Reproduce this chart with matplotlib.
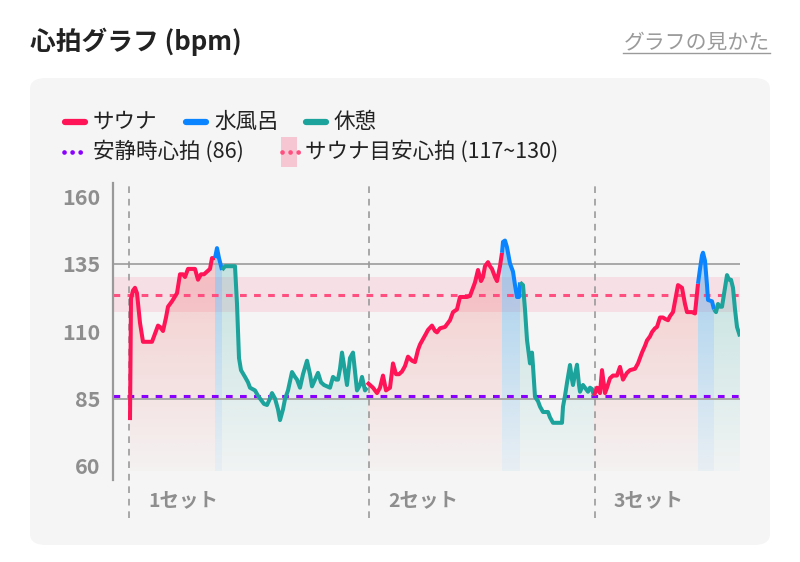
import numpy as np
import matplotlib
matplotlib.use("Agg")
import matplotlib.pyplot as plt
from matplotlib.patches import FancyBboxPatch, Polygon, Rectangle
from matplotlib.lines import Line2D
from matplotlib.colors import to_rgb

plt.rcParams['font.family'] = ['Noto Sans CJK JP', 'DejaVu Sans']

# heart-rate trace, split by phase (t = elapsed units, v = bpm)
sauna1_t = [1, 2, 4, 6, 8, 11, 14, 18, 23, 26, 29, 31, 34, 37, 39, 43, 48, 51, 54, 56, 59, 66, 69, 72, 75, 78, 81, 83, 86]
sauna1_v = [77, 122, 125, 126, 124, 113, 106, 106, 106, 109, 112, 111.5, 110, 115, 119, 121, 124, 131, 131, 130, 133, 133, 129, 131, 131, 132, 133, 137, 137]
cold1_t = [86, 88, 90, 93]
cold1_v = [137, 140.7, 137, 132.6]
rest1_t = [93, 96, 101, 106, 108, 110, 112, 116, 119, 121, 126, 129, 131, 135, 138, 141, 143, 146, 149, 151, 154, 156, 159, 163,
           166, 168, 171, 174, 178, 181, 183, 186, 189, 192, 195, 198, 201, 204, 207, 209, 211, 213, 216, 218, 221, 224, 226, 228, 231, 233, 236, 238]
rest1_v = [132.6, 134, 134, 134, 120, 100, 95.5, 93, 91, 89, 88, 86, 85, 83, 82.6, 85, 87, 85, 81, 77, 81, 84.8, 88, 94.8,
           93, 92, 89, 94, 99, 94, 89.5, 92, 94.5, 91, 90, 89.5, 89, 93, 92, 92, 96, 102, 95, 90, 100, 102, 95, 88, 90, 93, 88, 89]
sauna2_t = [238, 241, 244, 248, 251, 254, 257, 261, 264, 267, 270, 273, 276, 279, 283, 286, 289, 291, 294, 297, 299, 303, 306, 308,
            311, 316, 319, 321, 324, 328, 331, 334, 338, 341, 344, 346, 349, 352, 354, 356, 359, 361, 363, 366, 368, 371, 373]
sauna2_v = [91, 90, 89, 87, 89, 93.5, 88, 89, 98, 94, 94, 95, 97, 100.5, 99, 98.5, 103, 105, 107, 109, 110.4, 112, 110, 109.5,
            111, 111.5, 113, 114, 117, 118, 122.6, 122.6, 122.6, 123, 126, 128, 132.6, 128.5, 130, 134, 135.5, 134, 133, 130, 128.5, 134, 139]
cold2_t = [373, 374, 376, 378, 381, 383, 384, 386, 388, 390, 391]
cold2_v = [139, 143, 143.5, 141, 135, 133, 132, 127, 122.6, 122.6, 128]
rest2_t = [391, 394, 396, 398, 401, 403, 404, 406, 409, 411, 414, 419, 421, 424, 429, 433, 434, 436, 438, 441, 443, 444, 446, 448,
           450, 451, 454, 456, 459, 461, 463, 465]
rest2_v = [128, 127, 118, 106.7, 98, 102, 97, 85.6, 84, 82, 80, 80, 78, 76, 76, 76, 82, 86, 90.8, 97.4, 92, 90, 94, 97.5,
           90, 87.5, 90, 89, 87.5, 89, 88.5, 86]
sauna3_t = [465, 468, 471, 473, 476, 478, 481, 484, 488, 491, 494, 498, 501, 506, 509, 513, 516, 518, 521, 523, 526, 528, 531, 534,
            536, 539, 541, 544, 547, 549, 553, 556, 558, 561, 563, 566, 569]
sauna3_v = [86, 89, 87, 95.5, 87, 89, 92.5, 93.5, 93.5, 96.7, 92, 94.5, 95.5, 96, 98, 102, 104.5, 106.5, 108, 109.6, 111, 111.5, 115, 115,
            114.5, 114, 115.5, 117, 123, 127, 126, 120, 117, 117, 117, 116.5, 127.5]
cold3_t = [569, 571, 573, 574, 576, 578, 579, 583, 585]
cold3_v = [127.5, 133, 138, 139, 136, 127, 121.5, 121, 118]
rest3_t = [585, 587, 589, 591, 593, 596, 598, 600, 602, 604, 606, 608, 611]
rest3_v = [118, 117, 120, 119, 119, 126, 130.7, 129, 129, 126, 118, 111.5, 108]

set_starts = [0, 240, 466]
set_labels = ['1セット', '2セット', '3セット']
yticks = [60, 85, 110, 135, 160]
resting_hr = 86
target_lo, target_hi = 117, 130

C_SAUNA = '#ff1457'
C_COLD = '#0a84ff'
C_REST = '#1ba39c'
C_REST_HR = '#8a00ff'
C_TARGET = '#ff4f80'
GRAY = '#8e8e8e'
F_SAUNA = '#f03c3c'
F_COLD = '#1f8fe0'

fig = plt.figure(figsize=(8, 5.62), dpi=100)
fig.patch.set_facecolor('white')


def fx(px):
    return px / 800


def fy(py):
    return 1 - py / 562


# card background
card = FancyBboxPatch((fx(30), fy(545)), 740 / 800, 467 / 562,
                      boxstyle="round,pad=0,rounding_size=0.02", transform=fig.transFigure,
                      facecolor='#f5f5f5', edgecolor='none', zorder=-2)
fig.patches.append(card)

fig.text(fx(30), fy(42), '心拍グラフ (bpm)', fontsize=18.5, fontweight='bold',
         color='#222222', va='center', ha='left')
fig.text(fx(770), fy(42), 'グラフの見かた', fontsize=15, color='#9a9a9a', va='center', ha='right')
fig.add_artist(Line2D([fx(623), fx(770)], [fy(53)] * 2, color='#9a9a9a', lw=1, transform=fig.transFigure))

# legend
row1 = [(62, C_SAUNA, 'サウナ'), (183, C_COLD, '水風呂'), (303, C_REST, '休憩')]
for x0, c, lab in row1:
    fig.add_artist(Line2D([fx(x0 + 3), fx(x0 + 23)], [fy(122)] * 2, color=c, lw=4.5,
                          solid_capstyle='round', transform=fig.transFigure))
    fig.text(fx(x0 + 31), fy(122), lab, fontsize=15.5, color='#222222', va='center', ha='left')

fig.patches.append(Rectangle((fx(281), fy(167)), 16 / 800, 30 / 562, transform=fig.transFigure,
                             facecolor='#f7c6d3', edgecolor='none', zorder=1))
for x0, tx, c, lab in [(62, 93, C_REST_HR, '安静時心拍 (86)'), (280, 305, C_TARGET, 'サウナ目安心拍 (117~130)')]:
    fig.add_artist(Line2D([fx(x0 + 2), fx(x0 + 18.5)], [fy(152)] * 2, color=c, lw=3.4,
                          linestyle=(0, (0.01, 1.7)), dash_capstyle='round', transform=fig.transFigure, zorder=2))
    fig.text(fx(tx), fy(152), lab, fontsize=15.5, color='#222222', va='center', ha='left')

ax = fig.add_axes([113 / 800, fy(479.5), 627 / 800, 297 / 562])
ax.set_facecolor('none')
YMIN, YMAX = 55, 165
FILL_BOTTOM = 58


def grad_fill(t, v, color, a_top, a_bot):
    t = np.asarray(t, float)
    v = np.asarray(v, float)
    verts = [(t[0], FILL_BOTTOM)] + list(zip(t, v)) + [(t[-1], FILL_BOTTOM)]
    poly = Polygon(verts, closed=True, facecolor='none', edgecolor='none', transform=ax.transData)
    ax.add_patch(poly)
    img = np.zeros((200, 1, 4))
    img[..., :3] = to_rgb(color)
    img[..., 3] = np.linspace(a_top, a_bot, 200)[:, None]
    im = ax.imshow(img, extent=[t[0], t[-1], FILL_BOTTOM, 145], origin='upper', aspect='auto',
                   interpolation='bilinear', zorder=1)
    im.set_clip_path(poly)


# (t, v, line colour, fill colour, top alpha, bottom alpha)
segments = [
    (sauna1_t, sauna1_v, C_SAUNA, F_SAUNA, 0.25, 0.02),
    (cold1_t, cold1_v, C_COLD, F_COLD, 0.4, 0.06),
    (rest1_t, rest1_v, C_REST, C_REST, 0.26, 0.02),
    (sauna2_t, sauna2_v, C_SAUNA, F_SAUNA, 0.25, 0.02),
    (cold2_t, cold2_v, C_COLD, F_COLD, 0.4, 0.06),
    (rest2_t, rest2_v, C_REST, C_REST, 0.26, 0.02),
    (sauna3_t, sauna3_v, C_SAUNA, F_SAUNA, 0.25, 0.02),
    (cold3_t, cold3_v, C_COLD, F_COLD, 0.4, 0.06),
    (rest3_t, rest3_v, C_REST, C_REST, 0.26, 0.02),
]
for t, v, c, fc, a1, a2 in segments:
    grad_fill(t, v, fc, a1, a2)

# target band, reference lines
ax.axhspan(target_lo, target_hi, color='#ff8fae', alpha=0.2, lw=0, zorder=0.5)
ax.axhline((target_lo + target_hi) / 2, color=C_TARGET, lw=2.2, linestyle=(0, (2.2, 2.4)), zorder=2)
for g in [85, 135]:
    ax.axhline(g, color='#a8a8a8', lw=1.4, zorder=1.5)
ax.axhline(resting_hr, color=C_REST_HR, lw=2.2, linestyle=(0, (2.2, 2.4)), zorder=2)

for t, v, c, fc, a1, a2 in segments:
    ax.plot(t, v, color=c, lw=2.9, solid_joinstyle='round', solid_capstyle='butt', zorder=3)

for s, lab in zip(set_starts, set_labels):
    ax.axvline(s, ymin=-0.13, ymax=1.0, color='#9a9a9a', lw=1.2, linestyle=(0, (4, 3.5)),
               clip_on=False, zorder=2)
    ax.text(s + 19, -0.07, lab, transform=ax.get_xaxis_transform(), fontsize=14,
            fontweight='bold', color=GRAY, va='center', ha='left')

ax.set_xlim(-16, 611)
ax.set_ylim(YMIN, YMAX)
ax.set_yticks(yticks)
ax.set_yticklabels([str(y) for y in yticks], fontsize=15.5, fontweight='bold', color=GRAY)
ax.tick_params(axis='y', length=0, pad=9)
ax.set_xticks([])
for side in ['top', 'right', 'bottom']:
    ax.spines[side].set_visible(False)
ax.spines['left'].set_color('#999999')
ax.spines['left'].set_linewidth(1.6)

fig.savefig('out.png', dpi=100, facecolor='white')
